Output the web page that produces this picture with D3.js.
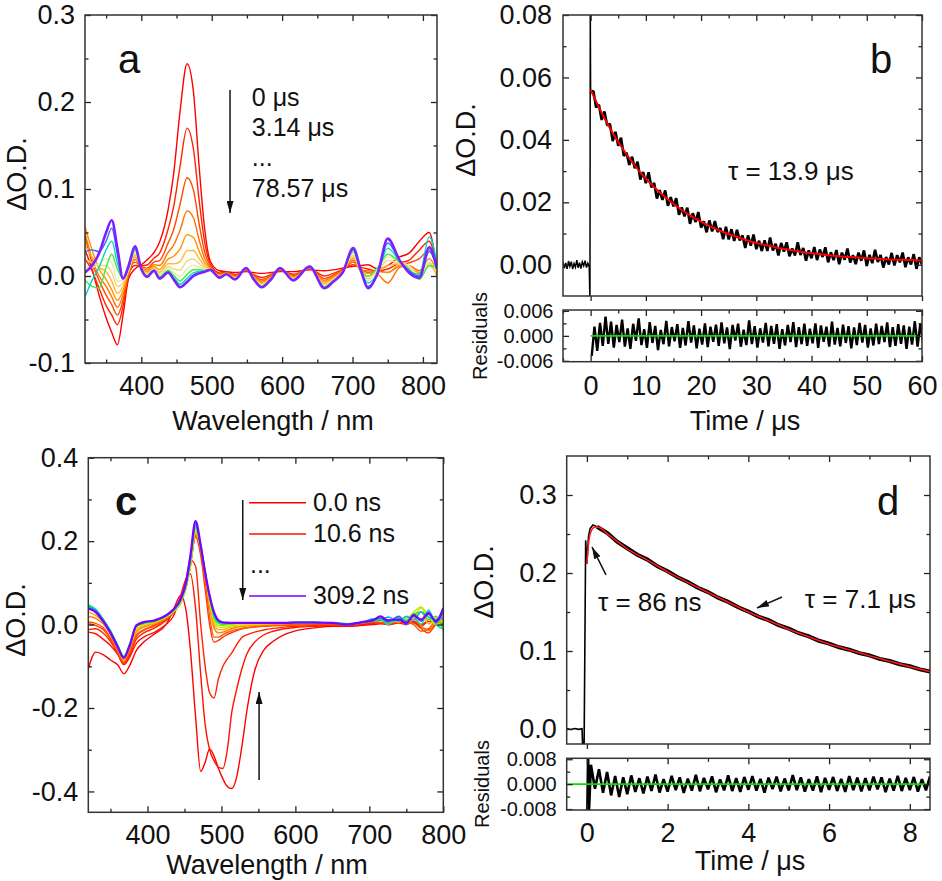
<!DOCTYPE html>
<html>
<head>
<meta charset="utf-8">
<script src="https://cdn.jsdelivr.net/npm/d3@7"></script>
<style>
  body { margin: 0; background: #fff; }
  svg text { fill: #111; }
</style>
</head>
<body>
<div id="chart"></div>
<script>
//fonts used everywhere
var FONT = "'Liberation Sans', Arial, Helvetica, sans-serif";

// ---------------- panel a : spectra at microsecond delays ----------------
var wavelengthsA = [320, 330, 340, 350, 358, 366, 374, 382, 391, 400, 408, 418, 426, 438, 446, 455, 465, 474, 482, 490, 498, 511, 521, 533, 549, 559, 571, 584, 597, 616, 639, 660, 672, 686, 701, 712, 722, 736, 750, 767, 780, 795, 809, 820];
var spectrumA01 = [0.03, 0.008, -0.022, -0.048, -0.065, -0.079, -0.045, -0.003, 0.008, 0.013, 0.0185, 0.027, 0.039, 0.076, 0.118, 0.189, 0.244, 0.212, 0.127, 0.054, 0.017, 0.006, 0.005, 0.004, 0.005, 0.004, 0.003, 0.004, 0.005, 0.005, 0.007, 0.006, 0.007, 0.009, 0.011, 0.012, 0.013, 0.008, 0.012, 0.022, 0.026, 0.04, 0.05, 0.002];
var spectrumA02 = [0.02, 0.006, -0.014, -0.034, -0.045, -0.056, -0.035, 0.002, 0.012, 0.012, 0.0126, 0.0206, 0.0263, 0.0538, 0.080, 0.126, 0.170, 0.146, 0.088, 0.039, 0.014, 0.0036, 0.0041, 0.0016, 0.0062, 0.0019, -0.0018, 0.0016, 0.0062, 0.002, 0.0082, 0.0, 0.0028, 0.0075, 0.013, 0.01, 0.008, 0.006, 0.008, 0.015, 0.018, 0.03, 0.04, 0.005];
var spectrumA03 = [0.045, 0.015, -0.005, -0.022, -0.033, -0.045, -0.028, 0.003, 0.016, 0.011, 0.009, 0.016, 0.0178, 0.0378, 0.0535, 0.0822, 0.113, 0.099, 0.0606, 0.0276, 0.0116, 0.0024, 0.0037, 0.0004, 0.0068, 0.0009, -0.0042, 0.0004, 0.0068, 0.0005, 0.0088, -0.003, 0.0007, 0.0068, 0.016, 0.008, 0.004, 0.006, 0.004, 0.012, 0.015, 0.02, 0.03, 0.006];
var spectrumA04 = [0.05, 0.02, 0.0, -0.012, -0.024, -0.036, -0.022, 0.004, 0.019, 0.01, 0.0067, 0.0131, 0.012, 0.0271, 0.0356, 0.0525, 0.0748, 0.0669, 0.0419, 0.0202, 0.0099, 0.0016, 0.0034, -0.0004, 0.0072, 0.0002, -0.0058, -0.0004, 0.0072, -0.0005, 0.0092, -0.005, -0.0007, 0.0063, 0.018, 0.006, 0.006, 0.002, -0.008, 0.01, 0.012, 0.006, 0.02, 0.004];
var spectrumA05 = [0.057, 0.03, 0.008, -0.004, -0.016, -0.028, -0.017, 0.005, 0.022, 0.01, 0.0047, 0.0109, 0.0076, 0.0194, 0.0227, 0.0311, 0.0475, 0.0443, 0.0287, 0.015, 0.0088, 0.0008, 0.003, -0.0012, 0.0076, -0.0006, -0.0074, -0.0012, 0.0076, -0.0015, 0.0096, -0.007, -0.0021, 0.0058, 0.02, 0.005, 0.003, 0.005, 0.004, 0.012, 0.01, 0.004, 0.015, 0.0];
var spectrumA06 = [0.035, 0.022, 0.01, 0.005, -0.006, -0.02, -0.012, 0.006, 0.024, 0.009, 0.003, 0.0093, 0.0043, 0.0142, 0.0139, 0.0165, 0.0292, 0.0293, 0.02, 0.0116, 0.0082, 0.0, 0.0028, -0.002, 0.008, -0.0013, -0.009, -0.002, 0.008, -0.0025, 0.01, -0.009, -0.0035, 0.0052, 0.022, 0.005, 0.0, 0.006, 0.012, 0.014, 0.01, 0.002, 0.012, 0.002];
var spectrumA07 = [0.02, 0.015, 0.012, 0.012, 0.004, -0.012, -0.008, 0.007, 0.026, 0.009, 0.0018, 0.0082, 0.0019, 0.0109, 0.008, 0.0069, 0.0174, 0.0196, 0.0144, 0.0094, 0.0077, -0.0006, 0.0025, -0.0026, 0.0083, -0.0017, -0.0101, -0.0026, 0.0083, -0.0032, 0.0103, -0.0104, -0.0045, 0.0049, 0.024, 0.005, -0.003, 0.006, 0.018, 0.014, 0.01, 0.0, 0.014, 0.004];
var spectrumA08 = [0.01, 0.01, 0.014, 0.02, 0.015, -0.006, -0.005, 0.008, 0.028, 0.009, 0.0008, 0.0075, 0.0003, 0.0084, 0.0038, -0.0002, 0.0085, 0.0125, 0.0102, 0.0078, 0.0075, -0.001, 0.0024, -0.003, 0.0085, -0.0022, -0.0111, -0.003, 0.0085, -0.0038, 0.0105, -0.0116, -0.0053, 0.0046, 0.026, 0.004, -0.005, 0.008, 0.022, 0.016, 0.012, 0.0, 0.016, 0.006];
var spectrumA09 = [-0.005, -0.012, -0.014, 0.01, 0.025, 0.008, -0.003, 0.009, 0.03, 0.008, 0.0001, 0.0069, -0.0011, 0.0065, 0.0005, -0.0057, 0.0019, 0.0072, 0.0072, 0.0067, 0.0073, -0.0014, 0.0022, -0.0034, 0.0087, -0.0025, -0.0119, -0.0034, 0.0087, -0.0043, 0.0107, -0.0126, -0.006, 0.0043, 0.028, 0.006, 0.0, 0.01, 0.025, 0.016, 0.008, -0.004, 0.012, 0.01];
var spectrumA10 = [-0.024, -0.005, 0.01, 0.03, 0.04, 0.015, -0.003, 0.01, 0.031, 0.008, -0.0005, 0.0064, -0.0021, 0.0052, -0.0019, -0.0094, -0.0026, 0.0036, 0.0051, 0.0059, 0.0072, -0.0018, 0.0021, -0.0038, 0.0089, -0.0028, -0.0125, -0.0038, 0.0089, -0.0047, 0.0109, -0.0134, -0.0066, 0.0042, 0.03, 0.006, -0.008, 0.004, 0.032, 0.017, 0.006, 0.002, 0.045, 0.014];
var spectrumA11 = [0.028, 0.03, 0.028, 0.04, 0.055, 0.025, -0.003, 0.011, 0.033, 0.008, -0.001, 0.006, -0.003, 0.004, -0.0035, -0.0122, -0.006, 0.001, 0.0035, 0.005, 0.007, -0.002, 0.002, -0.004, 0.0092, -0.003, -0.013, -0.004, 0.0092, -0.005, 0.0112, -0.0138, -0.007, 0.0041, 0.031, 0.006, -0.012, 0.003, 0.038, 0.018, 0.006, 0.0, 0.028, 0.01];
var spectrumA12 = [0.004, 0.012, 0.026, 0.05, 0.064, 0.032, -0.003, 0.012, 0.034, 0.008, -0.001, 0.006, -0.003, 0.004, -0.004, -0.013, -0.007, 0.0, 0.003, 0.005, 0.007, -0.002, 0.002, -0.004, 0.009, -0.003, -0.013, -0.004, 0.009, -0.005, 0.011, -0.014, -0.007, 0.004, 0.032, 0.006, -0.014, 0.004, 0.043, 0.018, 0.004, -0.002, 0.033, 0.008];
var coloursA = ["#ff0000", "#ff2400", "#ff4a00", "#ff7000", "#ff9400", "#ffb830", "#f0d878", "#e8eaa8", "#36f03c", "#00d6c4", "#2a6aff", "#7a22ff"];
var delayLabelsA = ["0 μs", "3.14 μs", "...", "78.57 μs"];

// ---------------- panel b : decay at 465 nm, microseconds ----------------
var preValuesB = [0.0009, -0.0011, 0.0006, -0.0013, 0.0012, -0.0005, 0.0010, -0.0014, 0.0004, -0.0008, 0.0015, -0.0010, 0.0007, -0.0012, 0.0009, -0.0003, 0.0013, -0.0009, 0.0005, -0.0007];
var spikeTimesB = [-0.12, -0.06];
var spikeValuesB = [-0.012, 0.082];
var decayValuesB = [
  0.0552, 0.0557, 0.0504, 0.0513, 0.0464, 0.0491, 0.0447, 0.0451, 0.0396, 0.0426,
  0.0381, 0.0407, 0.0349, 0.0359, 0.0320, 0.0346, 0.0309, 0.0330, 0.0273, 0.0297,
  0.0261, 0.0296, 0.0248, 0.0262, 0.0212, 0.0239, 0.0208, 0.0238, 0.0189, 0.0217,
  0.0187, 0.0213, 0.0160, 0.0184, 0.0155, 0.0183, 0.0131, 0.0165, 0.0137, 0.0169,
  0.0119, 0.0139, 0.0104, 0.0142, 0.0107, 0.0140, 0.0105, 0.0118, 0.0082, 0.0122,
  0.0081, 0.0114, 0.0076, 0.0112, 0.0078, 0.0094, 0.0054, 0.0094, 0.0061, 0.0097,
  0.0050, 0.0077, 0.0044, 0.0078, 0.0044, 0.0087, 0.0046, 0.0067, 0.0030, 0.0070,
  0.0042, 0.0072, 0.0027, 0.0052, 0.0030, 0.0072, 0.0031, 0.0054, 0.0013, 0.0046,
  0.0021, 0.0057, 0.0015, 0.0049, 0.0025, 0.0056, 0.0008, 0.0040, 0.0015, 0.0047,
  0.0002, 0.0039, 0.0016, 0.0052, 0.0007, 0.0031, 0.0002, 0.0039, 0.0013, 0.0046,
  -0.0004, 0.0032, 0.0005, 0.0048, 0.0009, 0.0031, -0.0009, 0.0025, 0.0001, 0.0038,
  -0.0002, 0.0031, 0.0008, 0.0039, -0.0008, 0.0024, 0.0001, 0.0034, -0.0013, 0.0024,
  0.0001];
var fitValuesB = [0.0561, 0.0487, 0.0422, 0.0367, 0.0318, 0.0276, 0.0240, 0.0209, 0.0182, 0.0158, 0.0138, 0.0120, 0.0105, 0.0092, 0.0080, 0.0070, 0.0062, 0.0054, 0.0048, 0.0042, 0.0037, 0.0033, 0.0029, 0.0026, 0.0024, 0.0021, 0.0019, 0.0017, 0.0016, 0.0015, 0.0013];
var residualsB = [
  -0.0048, 0.0022, -0.0036, 0.0031, -0.0024, 0.0046, -0.0019, 0.0034, -0.0028, 0.0026,
  -0.0015, 0.0039, -0.0026, 0.0018, -0.0031, 0.0029, -0.0012, 0.0042, -0.0022, 0.0016,
  -0.0029, 0.0033, -0.0017, 0.0024, -0.0034, 0.0014, -0.0020, 0.0036, -0.0025, 0.0021,
  -0.0013, 0.0028, -0.0029, 0.0019, -0.0023, 0.0035, -0.0016, 0.0025, -0.0030, 0.0017,
  -0.0021, 0.0030, -0.0027, 0.0022, -0.0014, 0.0027, -0.0024, 0.0032, -0.0018, 0.0020,
  -0.0032, 0.0026, -0.0011, 0.0029, -0.0026, 0.0015, -0.0022, 0.0037, -0.0020, 0.0023,
  -0.0028, 0.0018, -0.0016, 0.0031, -0.0025, 0.0024, -0.0019, 0.0028, -0.0031, 0.0016,
  -0.0023, 0.0026, -0.0015, 0.0033, -0.0027, 0.0021, -0.0020, 0.0029, -0.0024, 0.0017,
  -0.0018, 0.0030, -0.0029, 0.0025, -0.0014, 0.0022, -0.0026, 0.0034, -0.0021, 0.0019,
  -0.0025, 0.0027, -0.0017, 0.0023, -0.0030, 0.0020, -0.0022, 0.0031, -0.0016, 0.0026,
  -0.0028, 0.0018, -0.0023, 0.0029, -0.0020, 0.0024, -0.0015, 0.0032, -0.0027, 0.0021,
  -0.0024, 0.0028, -0.0019, 0.0025, -0.0031, 0.0022, -0.0021, 0.0035, -0.0026, 0.0030,
  -0.0018];

// ---------------- panel c : spectra at nanosecond delays ----------------
var wavelengthsC = [320, 330, 340, 350, 360, 368, 376, 385, 395, 410, 425, 435, 445, 452, 458, 465, 472, 478, 484, 490, 496, 502, 508, 514, 520, 527, 535, 545, 557, 570, 585, 600, 625, 650, 670, 690, 705, 715, 725, 740, 750, 760, 770, 780, 790, 800];
var spectrumC01 = [-0.106, -0.066, -0.072, -0.085, -0.097, -0.118, -0.098, -0.062, -0.042, -0.022, 0.0, 0.035, 0.07, 0.035, -0.06, -0.22, -0.352, -0.33, -0.298, -0.315, -0.345, -0.37, -0.388, -0.393, -0.37, -0.3, -0.2, -0.11, -0.062, -0.04, -0.024, -0.015, -0.008, -0.004, -0.004, -0.002, 0.0, 0.002, 0.0, 0.004, 0.002, 0.004, -0.006, -0.012, 0.0, 0.004];
var spectrumC02 = [-0.018, -0.022, -0.035, -0.05, -0.072, -0.096, -0.078, -0.045, -0.03, -0.018, 0.0, 0.02, 0.07, 0.11, 0.122, 0.04, -0.12, -0.24, -0.3, -0.326, -0.342, -0.345, -0.3, -0.21, -0.16, -0.11, -0.068, -0.042, -0.025, -0.016, -0.01, -0.007, -0.004, -0.002, -0.003, 0.0, 0.003, 0.005, 0.002, 0.006, 0.002, 0.006, -0.004, 0.008, 0.004, 0.0];
var spectrumC03 = [-0.012, -0.01, -0.02, -0.04, -0.07, -0.095, -0.072, -0.035, -0.02, -0.008, 0.01, 0.028, 0.06, 0.105, 0.155, 0.14, 0.0, -0.1, -0.163, -0.176, -0.13, -0.1, -0.082, -0.068, -0.05, -0.032, -0.024, -0.018, -0.013, -0.009, -0.006, -0.004, -0.003, -0.001, -0.002, 0.002, 0.004, 0.006, 0.0, 0.004, 0.0, 0.008, 0.0, 0.01, 0.012, 0.005];
var spectrumC04 = [0.002, -0.002, -0.012, -0.035, -0.068, -0.092, -0.066, -0.028, -0.014, -0.003, 0.013, 0.03, 0.058, 0.094, 0.145, 0.21, 0.165, 0.085, 0.0, -0.042, -0.038, -0.03, -0.024, -0.019, -0.015, -0.011, -0.008, -0.006, -0.004, -0.003, -0.002, -0.001, 0.0, 0.0, -0.002, 0.003, 0.006, 0.004, 0.002, 0.008, 0.006, 0.004, -0.01, -0.02, 0.0, 0.01];
var spectrumC05 = [0.006, 0.003, -0.007, -0.032, -0.066, -0.09, -0.063, -0.025, -0.012, -0.001, 0.014, 0.03, 0.056, 0.091, 0.141, 0.213, 0.175, 0.105, 0.02, -0.03, -0.03, -0.024, -0.019, -0.015, -0.012, -0.009, -0.007, -0.005, -0.003, -0.002, -0.001, 0.0, 0.002, 0.002, 0.0, 0.004, 0.008, 0.006, 0.004, 0.01, 0.008, 0.0, -0.016, -0.01, 0.01, 0.02];
var spectrumC06 = [0.02, 0.015, 0.002, -0.024, -0.06, -0.085, -0.058, -0.018, -0.006, 0.002, 0.016, 0.03, 0.052, 0.086, 0.138, 0.216, 0.185, 0.126, 0.045, -0.008, -0.02, -0.018, -0.014, -0.01, -0.007, -0.005, -0.003, -0.002, -0.001, 0.0, 0.002, 0.003, 0.004, 0.004, 0.001, 0.004, 0.008, 0.01, 0.004, 0.012, 0.0, 0.015, -0.004, -0.015, 0.006, 0.015];
var spectrumC07 = [0.03, 0.022, 0.006, -0.02, -0.058, -0.083, -0.055, -0.014, -0.003, 0.004, 0.017, 0.03, 0.052, 0.087, 0.14, 0.22, 0.186, 0.128, 0.052, 0.0, -0.012, -0.012, -0.009, -0.006, -0.004, -0.003, -0.002, -0.001, 0.0, 0.002, 0.003, 0.004, 0.004, 0.004, 0.001, 0.005, 0.01, 0.012, 0.006, 0.014, 0.004, 0.018, 0.03, 0.002, 0.012, 0.02];
var spectrumC08 = [0.04, 0.03, 0.01, -0.018, -0.055, -0.081, -0.052, -0.01, 0.0, 0.006, 0.018, 0.031, 0.053, 0.088, 0.142, 0.224, 0.186, 0.128, 0.058, 0.008, -0.006, -0.007, -0.005, -0.003, -0.002, -0.001, 0.0, 0.001, 0.002, 0.003, 0.004, 0.004, 0.005, 0.004, 0.001, 0.005, 0.012, 0.008, 0.012, 0.006, 0.018, 0.02, 0.04, 0.01, 0.015, 0.005];
var spectrumC09 = [0.045, 0.035, 0.012, -0.016, -0.052, -0.078, -0.048, -0.006, 0.002, 0.007, 0.019, 0.032, 0.054, 0.09, 0.145, 0.228, 0.186, 0.127, 0.062, 0.014, -0.002, -0.003, -0.001, 0.0, 0.001, 0.002, 0.003, 0.003, 0.003, 0.004, 0.004, 0.005, 0.005, 0.004, 0.001, 0.005, 0.01, 0.012, 0.004, 0.01, 0.014, 0.03, 0.042, 0.02, 0.0, 0.01];
var spectrumC10 = [0.048, 0.037, 0.013, -0.015, -0.05, -0.076, -0.046, -0.004, 0.003, 0.008, 0.02, 0.033, 0.056, 0.092, 0.148, 0.232, 0.186, 0.126, 0.064, 0.018, 0.003, 0.0, 0.001, 0.002, 0.003, 0.003, 0.004, 0.004, 0.004, 0.004, 0.004, 0.005, 0.005, 0.004, 0.002, 0.004, 0.008, 0.012, 0.01, 0.018, 0.01, 0.025, 0.03, 0.012, 0.02, -0.015];
var spectrumC11 = [0.046, 0.036, 0.013, -0.015, -0.05, -0.077, -0.047, -0.003, 0.004, 0.009, 0.02, 0.034, 0.058, 0.094, 0.152, 0.236, 0.186, 0.124, 0.066, 0.022, 0.006, 0.003, 0.003, 0.004, 0.004, 0.004, 0.004, 0.004, 0.004, 0.004, 0.004, 0.005, 0.005, 0.004, 0.002, 0.005, 0.01, 0.015, 0.0, 0.015, 0.01, 0.02, 0.0, 0.035, 0.0, -0.01];
var spectrumC12 = [0.042, 0.034, 0.012, -0.016, -0.052, -0.078, -0.048, -0.003, 0.005, 0.01, 0.021, 0.035, 0.06, 0.097, 0.156, 0.24, 0.187, 0.124, 0.068, 0.026, 0.009, 0.005, 0.005, 0.004, 0.004, 0.004, 0.004, 0.004, 0.004, 0.004, 0.004, 0.005, 0.005, 0.004, 0.0, 0.004, 0.014, 0.01, 0.018, 0.008, 0.02, 0.01, 0.03, 0.018, 0.012, 0.015];
var spectrumC13 = [0.04, 0.032, 0.01, -0.018, -0.054, -0.079, -0.05, -0.003, 0.005, 0.01, 0.022, 0.036, 0.062, 0.1, 0.16, 0.244, 0.188, 0.124, 0.068, 0.028, 0.01, 0.006, 0.005, 0.004, 0.004, 0.004, 0.004, 0.004, 0.004, 0.004, 0.004, 0.005, 0.005, 0.004, 0.001, 0.006, 0.012, 0.016, 0.006, 0.02, 0.0, 0.025, 0.008, 0.03, 0.005, 0.03];
var spectrumC14 = [0.038, 0.03, 0.008, -0.02, -0.055, -0.08, -0.05, -0.002, 0.006, 0.01, 0.022, 0.036, 0.062, 0.1, 0.165, 0.248, 0.19, 0.125, 0.07, 0.03, 0.01, 0.005, 0.004, 0.004, 0.004, 0.004, 0.004, 0.004, 0.004, 0.004, 0.004, 0.005, 0.005, 0.004, 0.0, 0.006, 0.01, 0.02, 0.01, 0.012, 0.004, 0.022, 0.012, 0.026, 0.008, 0.04];
var coloursC = ["#ff0000", "#ff1200", "#ff2400", "#ff3c00", "#ff5a00", "#ff8000", "#ffaa00", "#e8dc00", "#b0f000", "#30e830", "#00e0a0", "#00b0ff", "#2a5cff", "#7a00ff"];
var legendLabelsC = ["0.0 ns", "10.6 ns", "...", "309.2 ns"];

// ---------------- panel d : rise and decay, microseconds ----------------
var triggerTimesD = [-0.5, -0.4, -0.3, -0.2, -0.12, -0.1, -0.07, -0.03, 0.0, 0.04, 0.08, 0.15, 0.25];
var triggerValuesD = [0.0008, -0.0006, 0.0007, -0.0004, 0.0003, -0.03, -0.03, 0.242, 0.212, 0.247, 0.257, 0.2615, 0.2593];
var decayValuesD = [0.2593, 0.2515, 0.2402, 0.2318, 0.2235, 0.2172, 0.2085, 0.2022, 0.1946, 0.1886, 0.1810, 0.1756, 0.1684, 0.1630, 0.1561, 0.1506, 0.1442, 0.1395, 0.1331, 0.1286, 0.1228, 0.1187, 0.1131, 0.1095, 0.1048, 0.1017, 0.0973, 0.0944, 0.0899, 0.0872, 0.0831, 0.0804, 0.0764, 0.0738];
var fitTimesD = [0.0, 0.03, 0.06, 0.1, 0.15, 0.22, 0.3, 0.5, 1.0, 1.5, 2.0, 2.5, 3.0, 3.5, 4.0, 4.5, 5.0, 5.5, 6.0, 6.5, 7.0, 7.5, 8.0, 8.5];
var fitValuesD = [0.212, 0.232, 0.245, 0.253, 0.2575, 0.259, 0.2585, 0.2505, 0.231, 0.2165, 0.2015, 0.188, 0.175, 0.1625, 0.150, 0.139, 0.128, 0.1182, 0.109, 0.1013, 0.094, 0.0868, 0.080, 0.0735];
var spikeTimesD = [0.01, 0.03, 0.05];
var spikeValuesD = [-0.0095, 0.0095, -0.0095];
var residualsD = [
  0.0062, -0.0015, 0.0048, -0.0028, 0.0039, -0.0036, 0.0026, -0.0041, 0.0022, -0.0032,
  0.0028, -0.0025, 0.0019, -0.0030, 0.0024, -0.0022, 0.0031, -0.0027, 0.0016, -0.0024,
  0.0027, -0.0019, 0.0022, -0.0028, 0.0018, -0.0021, 0.0030, -0.0023, 0.0020, -0.0017,
  0.0025, -0.0026, 0.0015, -0.0020, 0.0028, -0.0022, 0.0019, -0.0025, 0.0023, -0.0018,
  0.0026, -0.0021, 0.0017, -0.0027, 0.0021, -0.0016, 0.0024, -0.0023, 0.0018, -0.0020,
  0.0029, -0.0019, 0.0022, -0.0024, 0.0016, -0.0021, 0.0025, -0.0026, 0.0020, -0.0018,
  0.0023, -0.0022, 0.0017, -0.0025, 0.0026, -0.0019, 0.0021, -0.0023, 0.0019, -0.0020,
  0.0024, -0.0017, 0.0022, -0.0026, 0.0018, -0.0021, 0.0027, -0.0022, 0.0020, -0.0019,
  0.0023, -0.0024, 0.0016, -0.0020, 0.0025];

// tick values
var ticksWlMajor = [400, 500, 600, 700, 800];
var ticksWlMinor = [350, 450, 550, 650, 750];

// ----------------------------------------------------------------------
var seriesA = [spectrumA01, spectrumA02, spectrumA03, spectrumA04, spectrumA05, spectrumA06, spectrumA07, spectrumA08, spectrumA09, spectrumA10, spectrumA11, spectrumA12];
var seriesC = [spectrumC01, spectrumC02, spectrumC03, spectrumC04, spectrumC05, spectrumC06, spectrumC07, spectrumC08, spectrumC09, spectrumC10, spectrumC11, spectrumC12, spectrumC13, spectrumC14];
seriesA.forEach(function(s, i) { if (s.length !== wavelengthsA.length) throw new Error("A" + i + " " + s.length); });
seriesC.forEach(function(s, i) { if (s.length !== wavelengthsC.length) throw new Error("C" + i + " " + s.length); });

var svg = d3.select("#chart").append("svg")
  .attr("width", 942).attr("height", 881)
  .attr("font-family", FONT);
var defs = svg.append("defs");

defs.append("marker")
  .attr("id", "head")
  .attr("viewBox", "0 0 12 7")
  .attr("refX", 12).attr("refY", 3.5)
  .attr("markerWidth", 12).attr("markerHeight", 7)
  .attr("markerUnits", "userSpaceOnUse")
  .attr("orient", "auto")
  .append("path").attr("d", "M0,0L12,3.5L0,7Z").attr("fill", "#111");

function fmt(spec) {
  var f = d3.format(spec);
  return function(d) { return f(d).replace("\u2212", "-"); };
}

function clip(id, x, y) {
  defs.append("clipPath").attr("id", id).append("rect")
    .attr("x", x.range()[0]).attr("y", y.range()[1])
    .attr("width", x.range()[1] - x.range()[0])
    .attr("height", y.range()[0] - y.range()[1]);
  return "url(#" + id + ")";
}

//draw frame + inward ticks on all sides
function axes(x, y, o) {
  var x0 = x.range()[0], x1 = x.range()[1], y0 = y.range()[1], y1 = y.range()[0];
  var g = svg.append("g");
  function add(gen, scale, vals, size, tx, ty, f, pad, fs) {
    var sel = g.append("g")
      .attr("transform", "translate(" + tx + "," + ty + ")")
      .call(gen(scale).tickValues(vals).tickSize(size).tickPadding(pad || 0).tickFormat(f || ""));
    sel.select(".domain").remove();
    sel.attr("font-family", FONT).attr("font-size", fs || 27).attr("color", "#222");
    sel.selectAll("line").attr("stroke-width", 1.3);
    sel.selectAll("text").attr("fill", "#111");
  }
  add(d3.axisLeft, y, o.yMajor, -6, x0, 0, o.yFmt, o.yPad || 10, o.yFontSize);
  add(d3.axisLeft, y, o.yMinor, -3.5, x0, 0);
  add(d3.axisRight, y, o.yMajor, -6, x1, 0);
  add(d3.axisRight, y, o.yMinor, -3.5, x1, 0);
  add(d3.axisTop, x, o.xMajor, -6, 0, y0);
  add(d3.axisTop, x, o.xMinor, -3.5, 0, y0);
  if (o.bottomOut) {
    add(d3.axisBottom, x, o.xMajor, 5, 0, y1);
  } else {
    add(d3.axisBottom, x, o.xMajor, -6, 0, y1, o.xFmt, o.xPad);
    add(d3.axisBottom, x, o.xMinor, -3.5, 0, y1);
  }
  g.append("rect").attr("x", x0).attr("y", y0)
    .attr("width", x1 - x0).attr("height", y1 - y0)
    .attr("fill", "none").attr("stroke", "#333").attr("stroke-width", 1.5);
}

function label(txt, px, py, size, opts) {
  opts = opts || {};
  var t = svg.append("text").attr("font-size", size).text(txt);
  if (opts.rotate) {
    t.attr("transform", "translate(" + px + "," + py + ") rotate(-90)").attr("text-anchor", "middle");
  } else {
    t.attr("x", px).attr("y", py).attr("text-anchor", opts.anchor || "start");
  }
  if (opts.bold) t.attr("font-weight", "bold");
  return t;
}

function arrow(x, y, p1, p2) {
  svg.append("line")
    .attr("x1", x(p1[0])).attr("y1", y(p1[1]))
    .attr("x2", x(p2[0])).attr("y2", y(p2[1]))
    .attr("stroke", "#111").attr("stroke-width", 1.5)
    .attr("marker-end", "url(#head)");
}

function pts(times, values) {
  return times.map(function(t, i) { return [t, values[i]]; });
}

// ======================= panel a =======================
var xA = d3.scaleLinear().domain([320, 820]).range([85, 437]);
var yA = d3.scaleLinear().domain([-0.1, 0.3]).range([363, 15]);
var lineA = d3.line()
  .x(function(d, i) { return xA(wavelengthsA[i]); })
  .y(function(d) { return yA(d); })
  .curve(d3.curveMonotoneX);
var gA = svg.append("g").attr("clip-path", clip("clipA", xA, yA));
seriesA.forEach(function(s, i) {
  gA.append("path").datum(s).attr("d", lineA)
    .attr("fill", "none").attr("stroke", coloursA[i])
    .attr("stroke-width", i === seriesA.length - 1 ? 2.6 : 1.4);
});
axes(xA, yA, {
  xMajor: ticksWlMajor, xMinor: ticksWlMinor, xFmt: fmt("d"), xPad: 13,
  yMajor: [-0.1, 0, 0.1, 0.2, 0.3], yMinor: [-0.05, 0.05, 0.15, 0.25], yFmt: fmt(".1f")
});
label("Wavelength / nm", 273, 430, 27, { anchor: "middle" });
label("ΔO.D.", 25.5, 174, 27, { rotate: true });
label("a", xA(367), yA(0.2333), 40);
arrow(xA, yA, [526, 0.2138], [526, 0.0724]);
[0.1954, 0.1609, 0.1264, 0.0908].forEach(function(v, i) {
  label(delayLabelsA[i], xA(557), yA(v), 25);
});

// ======================= panel b =======================
var xB = d3.scaleLinear().domain([-5, 60]).range([563, 922]);
var yB = d3.scaleLinear().domain([-0.01, 0.08]).range([296, 15]);
var yBr = d3.scaleLinear().domain([-0.0062, 0.0062]).range([361.7, 310]);
var decayB = pts(d3.range(0, 60.001, 0.5), decayValuesB);
// pre-trigger baseline and trigger spike are drawn thin, the decay as a thick noisy band
var triggerB = pts(d3.range(-5, 0, 0.25), preValuesB)
  .concat(pts(spikeTimesB, spikeValuesB))
  .concat(decayB.slice(0, 1));
var lineB = d3.line().x(function(d) { return xB(d[0]); }).y(function(d) { return yB(d[1]); });
var gB = svg.append("g").attr("clip-path", clip("clipB", xB, yB));
gB.append("path").datum(triggerB).attr("d", lineB)
  .attr("fill", "none").attr("stroke", "#000").attr("stroke-width", 1.5);
gB.append("path").datum(decayB).attr("d", lineB)
  .attr("fill", "none").attr("stroke", "#000").attr("stroke-width", 2.6).attr("stroke-linejoin", "bevel");
gB.append("path").datum(pts(d3.range(0, 60.001, 2), fitValuesB))
  .attr("d", d3.line().x(function(d) { return xB(d[0]); }).y(function(d) { return yB(d[1]); }).curve(d3.curveMonotoneX))
  .attr("fill", "none").attr("stroke", "#ff0000").attr("stroke-width", 2);

var gBr = svg.append("g").attr("clip-path", clip("clipBr", xB, yBr));
gBr.append("path").datum(pts(d3.range(0.2, 60.3, 0.5), residualsB))
  .attr("d", d3.line().x(function(d) { return xB(d[0]); }).y(function(d) { return yBr(d[1]); }))
  .attr("fill", "none").attr("stroke", "#000").attr("stroke-width", 2.4).attr("stroke-linejoin", "bevel");
gBr.append("path").datum([[0, 0], [59, 0]])
  .attr("d", d3.line().x(function(d) { return xB(d[0]); }).y(function(d) { return yBr(d[1]); }))
  .attr("stroke", "#00e000").attr("stroke-width", 1.6);

axes(xB, yB, {
  xMajor: [0, 10, 20, 30, 40, 50, 60], xMinor: [5, 15, 25, 35, 45, 55], bottomOut: true,
  yMajor: [0, 0.02, 0.04, 0.06, 0.08], yMinor: [0.01, 0.03, 0.05, 0.07], yFmt: fmt(".2f"), yPad: 11
});
axes(xB, yBr, {
  xMajor: [0, 10, 20, 30, 40, 50, 60], xMinor: [-5, 5, 15, 25, 35, 45, 55], xFmt: fmt("d"), xPad: 14,
  yMajor: [-0.006, 0, 0.006], yMinor: [-0.003, 0.003], yFmt: fmt(".3f"), yPad: 9.5, yFontSize: 20
});
label("Time / μs", 745, 430, 27, { anchor: "middle" });
label("ΔO.D.", 475, 140, 27, { rotate: true });
label("Residuals", 487, 336, 20, { rotate: true });
label("b", xB(50.6), yB(0.0614), 40);
label("τ = 13.9 μs", xB(24.87), yB(0.02715), 26);

// ======================= panel c =======================
var xC = d3.scaleLinear().domain([320, 800]).range([88.3, 443.3]);
var yC = d3.scaleLinear().domain([-0.45, 0.4]).range([812.3, 457.7]);
var lineC = d3.line()
  .x(function(d, i) { return xC(wavelengthsC[i]); })
  .y(function(d) { return yC(d); })
  .curve(d3.curveMonotoneX);
var gC = svg.append("g").attr("clip-path", clip("clipC", xC, yC));
seriesC.forEach(function(s, i) {
  gC.append("path").datum(s).attr("d", lineC)
    .attr("fill", "none").attr("stroke", coloursC[i])
    .attr("stroke-width", i === seriesC.length - 1 ? 2.2 : 1.4);
});
axes(xC, yC, {
  xMajor: ticksWlMajor, xMinor: ticksWlMinor, xFmt: fmt("d"), xPad: 12.5,
  yMajor: [-0.4, -0.2, 0, 0.2, 0.4], yMinor: [-0.3, -0.1, 0.1, 0.3], yFmt: fmt(".1f")
});
label("Wavelength / nm", 267, 874, 27, { anchor: "middle" });
label("ΔO.D.", 25, 620, 27, { rotate: true });
label("c", xC(356), yC(0.2626), 40, { bold: true });
// legend
[[0.292, coloursC[0]], [0.217, coloursC[1]], [0.0685, coloursC[13]]].forEach(function(r) {
  svg.append("line")
    .attr("x1", xC(537.4)).attr("x2", xC(614.5))
    .attr("y1", yC(r[0])).attr("y2", yC(r[0]))
    .attr("stroke", r[1]).attr("stroke-width", 1.6);
});
label(legendLabelsC[0], xC(623.8), yC(0.2729), 25);
label(legendLabelsC[1], xC(623.8), yC(0.1972), 25);
label(legendLabelsC[2], xC(538.6), yC(0.1236), 25);
label(legendLabelsC[3], xC(623.8), yC(0.0486), 25);
arrow(xC, yC, [528.8, 0.2986], [528.8, 0.0589]);
arrow(xC, yC, [550.9, -0.3726], [550.9, -0.1617]);

// ======================= panel d =======================
var xD = d3.scaleLinear().domain([-0.5, 8.5]).range([566.7, 930]);
var yD = d3.scaleLinear().domain([-0.0192, 0.35]).range([744, 456]);
var yDr = d3.scaleLinear().domain([-0.0083, 0.0083]).range([810, 758.3]);
var lineD = d3.line().x(function(d) { return xD(d[0]); }).y(function(d) { return yD(d[1]); });
var gD = svg.append("g").attr("clip-path", clip("clipD", xD, yD));
gD.append("path").datum(pts(triggerTimesD, triggerValuesD)).attr("d", lineD)
  .attr("fill", "none").attr("stroke", "#000").attr("stroke-width", 1.6);
gD.append("path").datum(pts(d3.range(0.25, 8.51, 0.25), decayValuesD)).attr("d", lineD)
  .attr("fill", "none").attr("stroke", "#000").attr("stroke-width", 4);
gD.append("path").datum(pts(fitTimesD, fitValuesD)).attr("d", lineD.curve(d3.curveMonotoneX))
  .attr("fill", "none").attr("stroke", "#ff1a1a").attr("stroke-width", 1.6);

var lineDr = d3.line().x(function(d) { return xD(d[0]); }).y(function(d) { return yDr(d[1]); });
var gDr = svg.append("g").attr("clip-path", clip("clipDr", xD, yDr));
gDr.append("path")
  .datum(pts(spikeTimesD, spikeValuesD).concat(pts(d3.range(0.1, 8.55, 0.1), residualsD)))
  .attr("d", lineDr).attr("fill", "none").attr("stroke", "#000").attr("stroke-width", 2.6).attr("stroke-linejoin", "bevel");
gDr.append("path").datum([[-0.5, 0], [8.4, 0]]).attr("d", lineDr)
  .attr("stroke", "#00e000").attr("stroke-width", 1.6);

axes(xD, yD, {
  xMajor: [0, 2, 4, 6, 8], xMinor: [1, 3, 5, 7], bottomOut: true,
  yMajor: [0, 0.1, 0.2, 0.3], yMinor: [0.05, 0.15, 0.25], yFmt: fmt(".1f")
});
axes(xD, yDr, {
  xMajor: [0, 2, 4, 6, 8], xMinor: [1, 3, 5, 7], xFmt: fmt("d"), xPad: 13,
  yMajor: [-0.008, 0, 0.008], yMinor: [-0.004, 0.004], yFmt: fmt(".3f"), yPad: 10, yFontSize: 20
});
label("Time / μs", 750, 870, 27, { anchor: "middle" });
label("ΔO.D.", 493, 582, 27, { rotate: true });
label("Residuals", 489, 784, 20, { rotate: true });
label("d", xD(7.19), yD(0.2744), 40);
label("τ = 86 ns", xD(0.275), yD(0.1513), 26);
label("τ = 7.1 μs", xD(5.40), yD(0.1552), 26);
arrow(xD, yD, [0.4735, 0.1975], [0.1267, 0.2333]);
arrow(xD, yD, [4.833, 0.1692], [4.214, 0.1552]);
</script>
</body>
</html>
